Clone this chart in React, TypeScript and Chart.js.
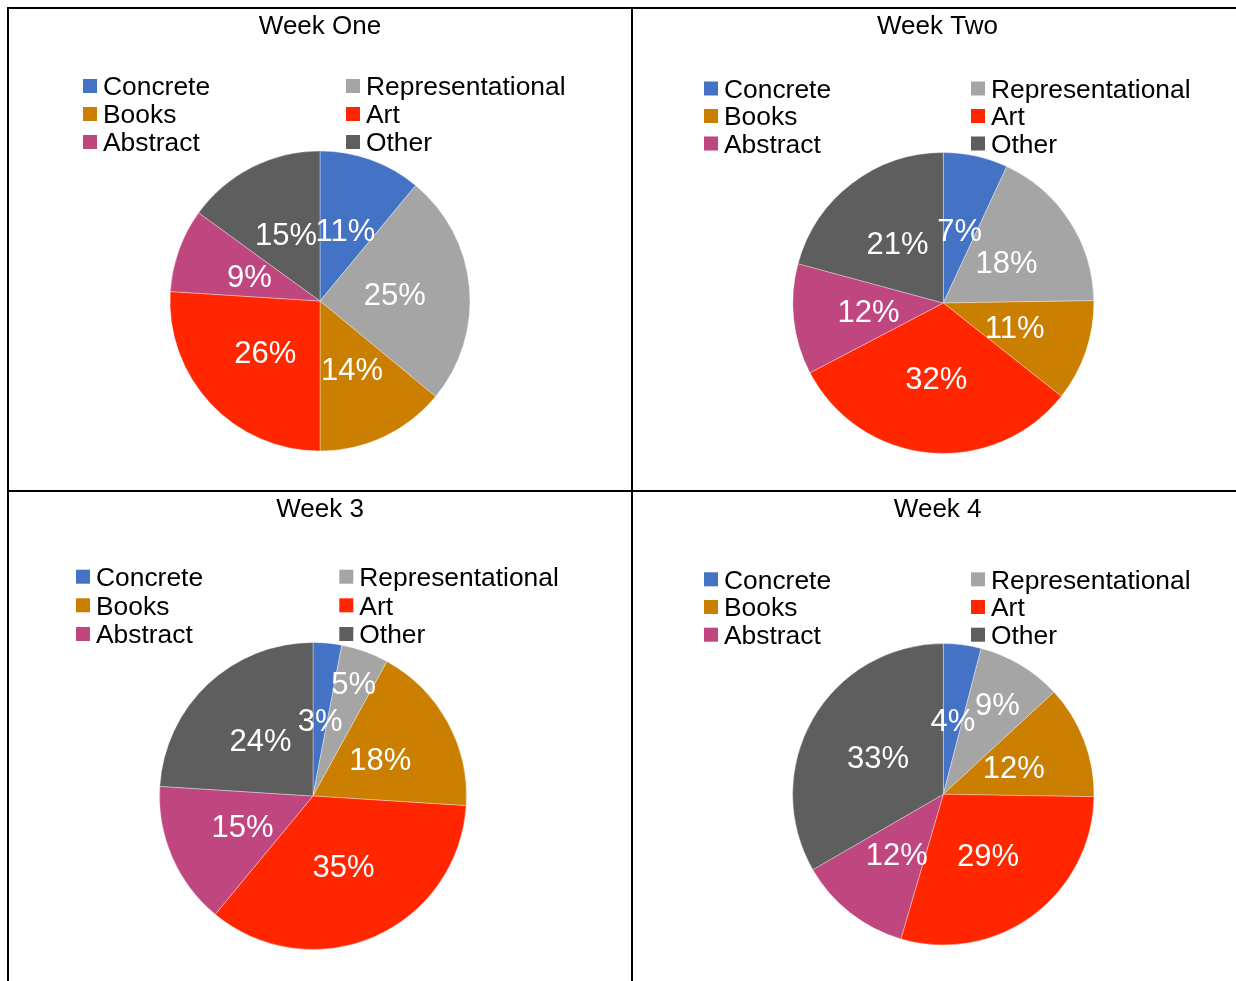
import React, { useEffect, useRef } from "react";
import { Chart, PieController, ArcElement } from "chart.js";

Chart.register(PieController, ArcElement);

// ---- data ----
const categories = ["Concrete", "Representational", "Books", "Art", "Abstract", "Other"];
const sliceColors = ["#4472C4", "#A5A5A5", "#CB7F00", "#FF2600", "#C0467F", "#5E5E5E"];

const weekOneShares = [11, 25, 14, 26, 9, 15];
const weekTwoShares = [7, 18, 11, 32, 12, 21];
const week3Shares = [3, 5, 18, 35, 15, 24];
const week4Shares = [4, 9, 12, 29, 12, 33];

const FONT = '"Liberation Sans", Arial, Helvetica, sans-serif';

type Panel = {
  title: string;
  values: number[];
  // canvas rectangle on the page
  rect: { left: number; top: number; width: number; height: number };
  // pie centre and radius on the page
  pie: { cx: number; cy: number; r: number };
  titlePos: { x: number; y: number };
  legendCols: number[];
  legendRows: number[];
  // how far out (fraction of radius) each slice label sits
  labelReach?: number[];
};

const panels: Panel[] = [
  {
    title: "Week One",
    values: weekOneShares,
    rect: { left: 9, top: 9, width: 622, height: 481 },
    pie: { cx: 320, cy: 301, r: 150 },
    titlePos: { x: 320, y: 34.3 },
    legendCols: [83, 346],
    legendRows: [86, 114, 142],
  },
  {
    title: "Week Two",
    values: weekTwoShares,
    rect: { left: 633, top: 9, width: 603, height: 481 },
    pie: { cx: 943.3, cy: 303, r: 150.5 },
    titlePos: { x: 937.5, y: 34.3 },
    legendCols: [704, 971],
    legendRows: [88.5, 116, 143.5],
  },
  {
    title: "Week 3",
    values: week3Shares,
    rect: { left: 9, top: 492, width: 622, height: 489 },
    pie: { cx: 313, cy: 796, r: 153.5 },
    titlePos: { x: 320, y: 516.7 },
    legendCols: [76, 339.3],
    legendRows: [576.7, 605.3, 634],
    labelReach: [0.5, 0.78, 0.5, 0.5, 0.5, 0.5],
  },
  {
    title: "Week 4",
    values: week4Shares,
    rect: { left: 633, top: 492, width: 603, height: 489 },
    pie: { cx: 943.3, cy: 794.3, r: 150.7 },
    titlePos: { x: 937.7, y: 516.7 },
    legendCols: [704, 971],
    legendRows: [579.3, 607, 634.7],
    labelReach: [0.5, 0.7, 0.5, 0.5, 0.5, 0.5],
  },
];

// Draws the panel title, the two-column legend and the white percentage labels.
const panelText = {
  id: "panelText",
  afterDatasetsDraw(chart: any, _args: any, opts: any) {
    const ctx: CanvasRenderingContext2D = chart.ctx;
    const { title, titleX, titleY, legendCols, legendRows, ox, oy, labelReach } = opts;
    ctx.save();

    ctx.fillStyle = "#000";
    ctx.font = `26px ${FONT}`;
    ctx.textAlign = "center";
    ctx.textBaseline = "alphabetic";
    ctx.fillText(title, titleX - ox, titleY - oy);

    const labels: string[] = chart.data.labels;
    const colors: string[] = chart.data.datasets[0].backgroundColor;
    ctx.font = `26.4px ${FONT}`;
    ctx.textAlign = "left";
    labels.forEach((lab, i) => {
      const col = i % 2;
      const row = Math.floor(i / 2);
      const bx = legendCols[col] - ox;
      const cy = legendRows[row] - oy;
      ctx.fillStyle = colors[i];
      ctx.fillRect(bx, cy - 7, 14, 14);
      ctx.fillStyle = "#000";
      ctx.fillText(lab, bx + 20, cy + 9.4);
    });

    const meta = chart.getDatasetMeta(0);
    const data: number[] = chart.data.datasets[0].data;
    ctx.font = `31px ${FONT}`;
    ctx.textAlign = "center";
    ctx.fillStyle = "#fff";
    meta.data.forEach((arc: any, i: number) => {
      const { x, y, startAngle, endAngle, outerRadius } = arc.getProps(
        ["x", "y", "startAngle", "endAngle", "outerRadius"],
        true
      );
      const mid = (startAngle + endAngle) / 2;
      const rr = outerRadius * (labelReach ? labelReach[i] : 0.5);
      ctx.fillText(`${data[i]}%`, x + Math.cos(mid) * rr, y + Math.sin(mid) * rr + 11);
    });

    ctx.restore();
  },
};

function PiePanel({ panel }: { panel: Panel }) {
  const ref = useRef<HTMLCanvasElement | null>(null);

  useEffect(() => {
    if (!ref.current) return;
    const { rect, pie } = panel;
    const lx = pie.cx - rect.left;
    const ly = pie.cy - rect.top;
    const chart = new Chart(ref.current, {
      type: "pie",
      data: {
        labels: categories,
        datasets: [
          {
            data: panel.values,
            backgroundColor: sliceColors,
            borderColor: "rgba(255,255,255,0.45)",
            borderWidth: 0.75,
          },
        ],
      },
      options: {
        responsive: false,
        maintainAspectRatio: false,
        animation: false,
        events: [],
        radius: pie.r,
        layout: {
          padding: {
            left: lx - pie.r,
            right: rect.width - lx - pie.r,
            top: ly - pie.r,
            bottom: rect.height - ly - pie.r,
          },
        },
        plugins: {
          legend: { display: false },
          tooltip: { enabled: false },
          panelText: {
            title: panel.title,
            titleX: panel.titlePos.x,
            titleY: panel.titlePos.y,
            legendCols: panel.legendCols,
            legendRows: panel.legendRows,
            labelReach: panel.labelReach,
            ox: rect.left,
            oy: rect.top,
          },
        },
      } as any,
      plugins: [panelText],
    });
    return () => chart.destroy();
  }, [panel]);

  const { rect } = panel;
  return (
    <canvas
      ref={ref}
      width={rect.width}
      height={rect.height}
      style={{
        position: "absolute",
        left: rect.left,
        top: rect.top,
        width: rect.width,
        height: rect.height,
      }}
    />
  );
}

const rule = (left: number, top: number, width: number, height: number): React.CSSProperties => ({
  position: "absolute",
  left,
  top,
  width,
  height,
  background: "#000",
});

export default function App() {
  return (
    <div
      style={{
        position: "fixed",
        left: 0,
        top: 0,
        width: 1236,
        height: 981,
        background: "#fff",
        overflow: "hidden",
      }}
    >
      {panels.map((p) => (
        <PiePanel key={p.title} panel={p} />
      ))}
      <div style={rule(7, 7, 1229, 2)} />
      <div style={rule(7, 7, 2, 974)} />
      <div style={rule(631, 7, 2, 974)} />
      <div style={rule(7, 490, 1229, 2)} />
    </div>
  );
}
